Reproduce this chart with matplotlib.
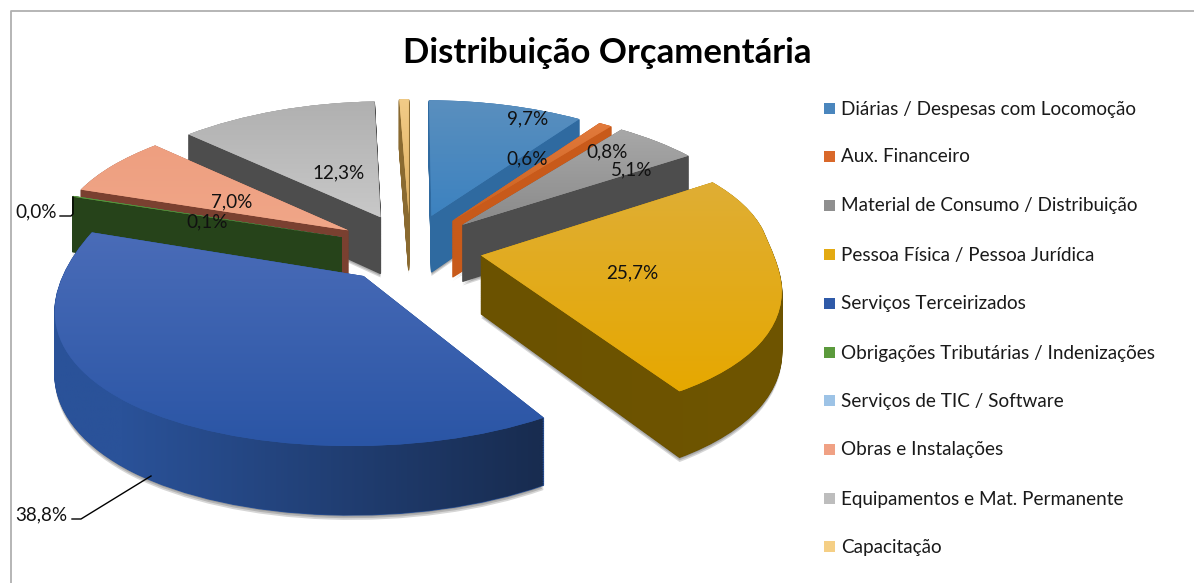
import numpy as np
import matplotlib
matplotlib.use("Agg")
import matplotlib.pyplot as plt
from matplotlib.transforms import Transform
from matplotlib.path import Path
from matplotlib.colors import LinearSegmentedColormap
from matplotlib.patches import Rectangle

categories = ["Diárias / Despesas com Locomoção", "Aux. Financeiro",
              "Material de Consumo / Distribuição", "Pessoa Física / Pessoa Jurídica",
              "Serviços Terceirizados", "Obrigações Tributárias / Indenizações",
              "Serviços de TIC / Software", "Obras e Instalações",
              "Equipamentos e Mat. Permanente", "Capacitação"]
values = [9.7, 0.8, 5.1, 25.7, 38.8, 0.1, 0.0, 7.0, 12.3, 0.6]
top_colors = ["#4a86bd", "#d9682a", "#a0a0a0", "#e3aa12", "#2f5aa8", "#5b9a3c",
              "#9dc3e6", "#f0a184", "#bdbdbd", "#f5cf85"]
top_far = ["#5a8fbe", "#e27a3c", "#a8a8a8", "#dfae35", "#4a6cb8", "#5b9a3c",
           "#9dc3e6", "#ee9f80", "#b0b0b0", "#f2cc88"]
top_near = ["#3c82c0", "#c9601c", "#8a8a8a", "#e6a800", "#2a55a5", "#5b9a3c",
            "#9dc3e6", "#f0a688", "#c8c8c8", "#e0b060"]
wall_left = ["#2f6aa0", "#c85a1a", "#4d4d4d", "#6b5200", "#2a5299", "#26431a",
             "#5a7ea0", "#7a4030", "#4d4d4d", "#8a6a30"]
wall_right = ["#2f6aa0", "#b5520f", "#4d4d4d", "#6f5500", "#182c50", "#26431a",
              "#5a7ea0", "#7a4030", "#4d4d4d", "#8a6a30"]
legend_colors = ["#4a86bd", "#d9682a", "#8f8f8f", "#e3aa12", "#2f5aa8", "#5b9a3c",
                 "#9dc3e6", "#f0a184", "#bdbdbd", "#f5cf85"]
label_text = ["9,7%", "0,8%", "5,1%", "25,7%", "38,8%", "0,1%", "0,0%",
              "7,0%", "12,3%", "0,6%"]
label_xy = [(528, 119), (607, 152), (632, 170), (632, 273), (41, 515),
            (207, 222), (36, 212), (232, 202), (339, 173), (527, 159)]
explode_frac = 0.25
legend_y = [109, 157, 206, 255, 304, 353, 401, 450, 499, 547]

CX, CY, AX, BY, KX, KXB, KY, DEPTH = 410.0, 248.0, 288.0, 139.0, 0.20, 0.09, 0.134, 58.0


class Persp(Transform):
    input_dims = output_dims = 2
    is_separable = False
    has_inverse = False

    def __init__(self, z=0.0):
        super().__init__()
        self.z = z

    def transform_non_affine(self, v):
        v = np.asarray(v, float)
        wy = 1 + KY * v[:, 1]
        wx = 1 + KX * np.minimum(v[:, 1], 0) + KXB * np.maximum(v[:, 1], 0) ** 2
        return np.column_stack([CX + AX * v[:, 0] / wx,
                                CY - BY * v[:, 1] / wy + self.z * DEPTH / wy])


plt.rcParams["font.family"] = ["Lato", "DejaVu Sans"]
fig = plt.figure(figsize=(11.94, 5.83), dpi=100)
ax = fig.add_axes([0, 0, 1, 1])
explode = [explode_frac] * len(values)
fr = np.array(values, float) / sum(values)
cum = np.concatenate([[0], np.cumsum(fr)])
mid = (cum[:-1] + cum[1:]) / 2 * 2 * np.pi
depth_order = np.argsort(np.argsort(-np.cos(mid)))

# soft shadow under the solids
for z in (1.07, 1.045, 1.02):
    wedges, _ = ax.pie(values, explode=explode, startangle=90, counterclock=False,
                       colors=["black"] * len(values), normalize=True)
    for i, w in enumerate(wedges):
        w.set_transform(Persp(z) + ax.transData)
        w.set_zorder(2 + depth_order[i] - 0.01)
        w.set_alpha(0.16)
        w.set_linewidth(0)
        w.set_clip_on(False)

layers = np.linspace(1, 0, 90)
for li, z in enumerate(layers):
    colors = top_colors if z == 0 else wall_left
    wedges, _ = ax.pie(values, explode=explode, startangle=90, counterclock=False,
                       radius=1.0, colors=colors, normalize=True)
    for i, w in enumerate(wedges):
        w.set_transform(Persp(z) + ax.transData)
        w.set_zorder(2 + depth_order[i] + li / 200)
        w.set_edgecolor(colors[i])
        w.set_linewidth(0.8 if z > 0 else 0)
        w.set_clip_on(False)
    if z == 0:
        tops = wedges

ax.set_aspect("auto")
ax.axis("off")

# gradient on the walls of the large slices
for i in (3, 4):
    cmap = LinearSegmentedColormap.from_list("w", [wall_left[i], wall_right[i]])
    zs = np.linspace(1, 0.01, 40)
    paths = [Persp(z).transform_path_non_affine(tops[i].get_path()) for z in zs]
    clip = Path.make_compound_path(*paths)
    x0, x1 = clip.vertices[:, 0].min(), clip.vertices[:, 0].max()
    y0, y1 = clip.vertices[:, 1].min(), clip.vertices[:, 1].max()
    g = np.clip((np.linspace(x0, x1, 256) - 120) / 420, 0, 1).reshape(1, -1) if i == 4 \
        else np.linspace(0, 1, 256).reshape(1, -1)
    im = ax.imshow(g, extent=(x0, x1, y1, y0), cmap=cmap, aspect="auto",
                   zorder=2 + depth_order[i] + 0.47, vmin=0, vmax=1)
    im.set_clip_path(clip, ax.transData)

# gradient on the top surfaces
for i, w in enumerate(tops):
    if values[i] == 0:
        continue
    w.set_zorder(2 + depth_order[i] + 0.6)
    clip = Persp(0).transform_path_non_affine(w.get_path())
    x0, x1 = clip.vertices[:, 0].min(), clip.vertices[:, 0].max()
    y0, y1 = clip.vertices[:, 1].min(), clip.vertices[:, 1].max()
    cmap = LinearSegmentedColormap.from_list("t", [top_far[i], top_near[i]])
    im = ax.imshow(np.linspace(0, 1, 256).reshape(-1, 1), extent=(x0, x1, y1, y0),
                   cmap=cmap, aspect="auto", zorder=2 + depth_order[i] + 0.7,
                   vmin=0, vmax=1)
    im.set_clip_path(clip, ax.transData)

ax.set_xlim(0, 1194)
ax.set_ylim(583, 0)

# frame
ax.plot([10.5, 10.5, 1194], [583, 10.5, 10.5], color="#b0b0b0", lw=1.3, zorder=1,
        clip_on=False)

# title
ax.text(607.5, 53, "Distribuição Orçamentária", fontsize=25, fontweight="bold",
        ha="center", va="center", color="black", zorder=40)

# data labels
for t, (x, y) in zip(label_text, label_xy):
    ax.text(x, y, t, fontsize=13.6, ha="center", va="center", color="#111111", zorder=40)
ax.plot([60, 71, 73, 73], [216, 216, 214, 197], color="black", lw=1, zorder=40)
ax.plot([72, 81, 151], [519, 519, 476], color="black", lw=1, zorder=40)

# legend
for name, y, c in zip(categories, legend_y, legend_colors):
    ax.add_patch(Rectangle((824, y - 6.5), 11, 11, fc=c, ec="none", zorder=40))
    ax.text(841, y, name, fontsize=13.55, ha="left", va="center", color="#1a1a1a", zorder=40)

fig.savefig("out.png", dpi=100, facecolor="white")
